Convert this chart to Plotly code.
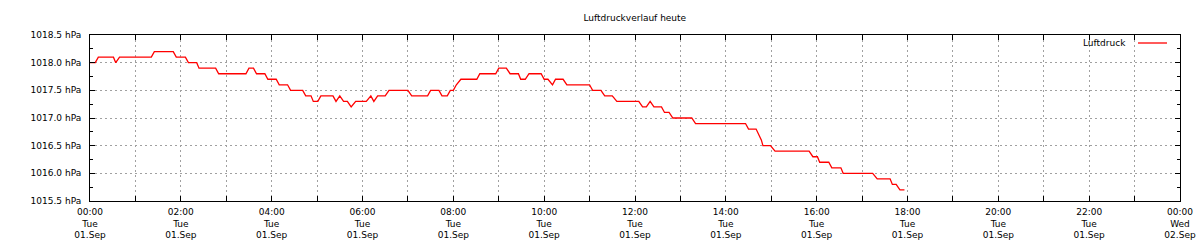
import pandas as pd
import plotly.graph_objects as go

# minutes after midnight (01.09.2020) and pressure in hPa
minutes = [0, 7, 11, 31, 34, 39, 81, 85, 110, 114, 126, 130, 141, 144, 166, 170,
           206, 210, 216, 220, 231, 235, 246, 250, 261, 265, 281, 285, 292, 295,
           301, 305, 321, 325, 330, 335, 340, 345, 351, 365, 371, 375, 380, 390,
           395, 420, 425, 446, 450, 461, 465, 472, 476, 480, 484, 490, 511, 515,
           536, 540, 550, 555, 566, 569, 575, 580, 596, 600, 605, 611, 615, 625,
           630, 660, 664, 675, 680, 690, 696, 725, 730, 735, 740, 745, 755, 759,
           765, 770, 795, 800, 866, 870, 880, 884, 887, 889, 899, 905, 950, 955,
           961, 964, 976, 980, 992, 995, 1034, 1040, 1057, 1060, 1065, 1070, 1076]
pressure = [1018.0, 1018.0, 1018.1, 1018.1, 1018.0, 1018.1, 1018.1, 1018.2, 1018.2, 1018.1,
            1018.1, 1018.0, 1018.0, 1017.9, 1017.9, 1017.8, 1017.8, 1017.9, 1017.9, 1017.8,
            1017.8, 1017.7, 1017.7, 1017.6, 1017.6, 1017.5, 1017.5, 1017.4, 1017.4, 1017.3,
            1017.3, 1017.4, 1017.4, 1017.3, 1017.4, 1017.3, 1017.3, 1017.2, 1017.3, 1017.3,
            1017.4, 1017.3, 1017.4, 1017.4, 1017.5, 1017.5, 1017.4, 1017.4, 1017.5, 1017.5,
            1017.4, 1017.4, 1017.5, 1017.5, 1017.6, 1017.7, 1017.7, 1017.8, 1017.8, 1017.9,
            1017.9, 1017.8, 1017.8, 1017.7, 1017.7, 1017.8, 1017.8, 1017.7, 1017.7, 1017.6,
            1017.7, 1017.7, 1017.6, 1017.6, 1017.5, 1017.5, 1017.4, 1017.4, 1017.3, 1017.3,
            1017.2, 1017.2, 1017.3, 1017.2, 1017.2, 1017.1, 1017.1, 1017.0, 1017.0, 1016.9,
            1016.9, 1016.8, 1016.8, 1016.7, 1016.6, 1016.5, 1016.5, 1016.4, 1016.4, 1016.3,
            1016.3, 1016.2, 1016.2, 1016.1, 1016.1, 1016.0, 1016.0, 1015.9, 1015.9, 1015.8,
            1015.8, 1015.7, 1015.7]

day_start = "2020-09-01 00:00"
day_end = "2020-09-02 00:00"
title_text = "Luftdruckverlauf heute"
series_name = "Luftdruck"

times = pd.Timestamp(day_start) + pd.to_timedelta(minutes, unit="m")

FONT = "DejaVu Sans"
GRID = "#a0a0a0"

fig = go.Figure()
fig.add_trace(go.Scatter(x=times, y=pressure, mode="lines", name=series_name,
                         line=dict(color="#ff0000", width=1.3), showlegend=False))

fig.update_layout(
    width=1200, height=250,
    margin=dict(l=90, r=20, t=35, b=49, autoexpand=False),
    paper_bgcolor="white", plot_bgcolor="white",
    font=dict(family=FONT, size=9, color="black"),
    title=dict(text=title_text, x=0.529, xanchor="center", y=0.93, yanchor="middle",
               font=dict(family=FONT, size=9, color="black")),
    xaxis=dict(
        range=[day_start, day_end], type="date", automargin=False,
        dtick=2 * 3600 * 1000, tick0=day_start,
        tickformat="%H:%M<br>%a<br>%d.%b",
        ticks="inside", ticklen=5, tickcolor="black",
        showline=True, linecolor="black", linewidth=1, mirror="ticks",
        showgrid=True, gridcolor=GRID, griddash="2px,3px", gridwidth=1,
        minor=dict(dtick=3600 * 1000, ticks="inside", ticklen=5, tickcolor="black",
                   showgrid=True, gridcolor=GRID, griddash="2px,3px", gridwidth=1),
        zeroline=False, ticklabelstandoff=2,
    ),
    yaxis=dict(
        range=[1015.5, 1018.5], dtick=0.5, tick0=1015.5, automargin=False,
        tickformat=".1f", ticksuffix=" hPa",
        ticks="inside", ticklen=5, tickcolor="black",
        showline=True, linecolor="black", linewidth=1, mirror="ticks",
        showgrid=True, gridcolor=GRID, griddash="2px,3px", gridwidth=1,
        minor=dict(dtick=0.25, ticks="inside", ticklen=3, tickcolor="black", showgrid=False),
        zeroline=False, ticklabelstandoff=6,
    ),
)

# gnuplot-style key: text on the left, line sample on the right
fig.add_annotation(text=series_name, xref="paper", yref="paper",
                   x=(1128 - 90) / 1090, y=(201 - 43) / 166, xanchor="right", yanchor="middle",
                   showarrow=False, font=dict(family=FONT, size=9, color="black"))
fig.add_shape(type="line", xref="paper", yref="paper",
              x0=(1138 - 90) / 1090, x1=(1167 - 90) / 1090,
              y0=(201 - 43) / 166, y1=(201 - 43) / 166,
              line=dict(color="#ff0000", width=1.3))

fig.write_html("out.html")
